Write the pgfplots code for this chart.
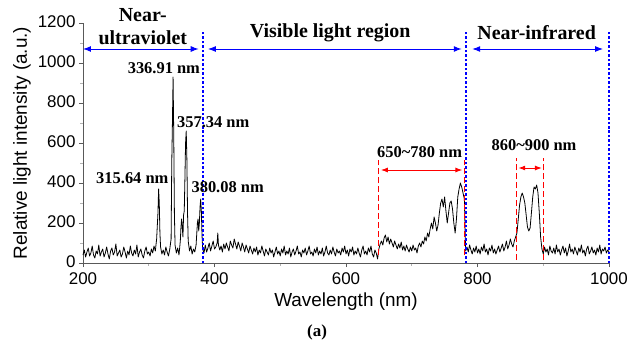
\documentclass[border=0pt]{standalone}
\usepackage{pgfplots}
\pgfplotsset{compat=1.18}
\usetikzlibrary{arrows.meta}
\usepackage{fontspec}
\setmainfont{Liberation Serif}
\newfontfamily\arial{Liberation Sans}
\begin{document}
\begin{tikzpicture}
\path[use as bounding box] (-83bp,-78bp) rectangle (561bp,263bp);
\begin{axis}[
  at={(0,0)}, anchor=south west,
  scale only axis, width=526bp, height=240bp,
  xmin=200, xmax=1000, ymin=0, ymax=1200,
  axis lines*=left,
  axis line style={black!65, line width=0.6pt},
  xtick={200,400,...,1000}, ytick={0,200,...,1200},
  minor x tick num=1, minor y tick num=1,
  tick align=outside,
  major tick length=4bp, minor tick length=2.5bp,
  tick style={black!65, line width=0.6pt},
  minor tick style={black!30},
  /pgf/number format/assume math mode=true,
  /pgf/number format/set thousands separator={},
  tick label style={font=\arial\fontsize{17}{20}\selectfont},
  x tick label style={yshift=-2.5bp},
  y tick label style={yshift=1bp},
  xlabel={Wavelength (nm)},
  ylabel={Relative light intensity (a.u.)},
  label style={font=\arial\fontsize{19}{22}\selectfont},
  x label style={at={(axis description cs:0.5,-0.1625)}, anchor=center},
  y label style={at={(axis description cs:-0.116,0.5)}, anchor=center},
  clip=false,
]
\addplot[black, line width=0.8pt, line join=round] coordinates {
(200,40) (202,65) (204,30) (206,55) (208,75) (210,35) (212,50) (214,85) (216,40) (218,25)
(220,60) (222,45) (224,90) (226,35) (228,55) (230,70) (232,30) (234,50) (236,80) (238,45)
(240,20) (242,60) (244,75) (246,40) (248,55) (250,95) (252,35) (254,50) (256,65) (258,30)
(260,45) (262,80) (264,55) (266,25) (268,60) (270,40) (272,85) (274,50) (276,35) (278,65)
(280,45) (282,90) (284,30) (286,55) (288,70) (290,40) (292,25) (294,60) (296,80) (298,45)
(300,55) (302,35) (304,70) (306,50) (308,85) (310,60) (312,120) (314,250) (315,370) (316,300)
(317,150) (318,80) (320,45) (322,65) (324,40) (326,80) (328,55) (330,35) (332,70) (334,120)
(335,500) (336,700) (337,930) (338,650) (339,250) (340,90) (342,50) (344,75) (346,40) (348,110)
(349,180) (350,220) (351,180) (352,130) (353,240) (354,260) (355,420) (356,600) (357,660) (358,520)
(359,250) (360,110) (362,60) (364,85) (366,45) (368,70) (370,55) (372,90) (374,200) (375,220)
(376,160) (377,200) (378,280) (379,320) (380,260) (381,140) (382,70) (384,50) (386,90) (388,55)
(390,75) (392,100) (394,60) (396,85) (398,110) (400,70) (402,80) (404,100) (405,150) (406,90)
(408,65) (410,85) (412,55) (414,95) (416,70) (418,100) (420,80) (422,60) (424,110) (426,90)
(428,75) (430,120) (432,95) (434,70) (436,105) (438,85) (440,60) (442,100) (444,80) (446,55)
(448,90) (450,70) (452,50) (454,85) (456,65) (458,45) (460,75) (462,55) (464,80) (466,40)
(468,65) (470,50) (472,85) (474,60) (476,35) (478,70) (480,55) (482,40) (484,75) (486,50)
(488,65) (490,30) (492,55) (494,80) (496,45) (498,60) (500,35) (502,70) (504,50) (506,85)
(508,40) (510,60) (512,45) (514,75) (516,30) (518,55) (520,70) (522,40) (524,60) (526,85)
(528,45) (530,55) (532,30) (534,65) (536,50) (538,75) (540,40) (542,60) (544,85) (546,45)
(548,55) (550,35) (552,70) (554,50) (556,80) (558,40) (560,60) (562,45) (564,75) (566,35)
(568,55) (570,85) (572,50) (574,40) (576,65) (578,45) (580,80) (582,55) (584,35) (586,70)
(588,50) (590,60) (592,40) (594,75) (596,55) (598,85) (600,45) (602,65) (604,35) (606,70)
(608,55) (610,80) (612,40) (614,60) (616,45) (618,75) (620,50) (622,30) (624,65) (626,85)
(628,45) (630,60) (632,40) (634,75) (636,55) (638,85) (640,45) (642,30) (644,65) (646,50)
(648,20) (650,70) (652,95) (654,110) (656,90) (658,125) (660,140) (662,105) (664,130) (666,95)
(668,120) (670,100) (672,80) (674,110) (676,90) (678,70) (680,95) (682,75) (684,105) (686,65)
(688,85) (690,60) (692,90) (694,70) (696,55) (698,80) (700,60) (702,90) (704,65) (706,75)
(708,50) (710,85) (712,100) (714,80) (716,110) (718,95) (720,130) (722,110) (724,150) (726,130)
(728,170) (730,200) (732,170) (734,230) (736,200) (738,160) (740,190) (742,250) (744,300) (746,320)
(748,280) (750,330) (752,260) (754,200) (756,250) (758,300) (760,310) (762,270) (764,200) (766,150)
(768,220) (770,330) (772,370) (774,400) (776,380) (778,350) (780,320) (782,60) (784,80) (786,55)
(788,90) (790,65) (792,45) (794,75) (796,55) (798,85) (800,50) (802,70) (804,45) (806,80)
(808,60) (810,95) (812,55) (814,70) (816,40) (818,75) (820,60) (822,90) (824,50) (826,70)
(828,45) (830,65) (832,85) (834,55) (836,75) (838,95) (840,60) (842,80) (844,110) (846,70)
(848,90) (850,120) (852,95) (854,80) (856,110) (858,130) (860,150) (862,220) (864,290) (866,330)
(868,350) (870,330) (872,300) (874,240) (876,180) (878,160) (880,175) (882,250) (884,330) (886,380)
(888,370) (890,390) (892,350) (894,250) (896,130) (898,70) (900,45) (902,80) (904,55) (906,70)
(908,40) (910,85) (912,60) (914,50) (916,75) (918,45) (920,90) (922,55) (924,70) (926,40)
(928,65) (930,85) (932,50) (934,75) (936,35) (938,60) (940,95) (942,55) (944,70) (946,45)
(948,80) (950,60) (952,40) (954,75) (956,55) (958,90) (960,50) (962,65) (964,35) (966,70)
(968,85) (970,45) (972,60) (974,80) (976,50) (978,65) (980,40) (982,75) (984,55) (986,90)
(988,45) (990,70) (992,60) (994,80) (996,50) (998,65) (1000,55)
};
% red dashed markers
\draw[red, line width=1pt, dash pattern=on 6pt off 3pt] (axis cs:650,40) -- (axis cs:650,515);
\draw[red, line width=1pt, dash pattern=on 6pt off 3pt] (axis cs:780,40) -- (axis cs:780,515);
\draw[red, line width=1pt, dash pattern=on 6pt off 3pt] (axis cs:860,15) -- (axis cs:860,525);
\draw[red, line width=1pt, dash pattern=on 6pt off 3pt] (axis cs:900,15) -- (axis cs:900,525);
\draw[red, line width=1pt, {Latex[length=7pt,width=5pt]}-{Latex[length=7pt,width=5pt]}] (axis cs:653,465) -- (axis cs:777,465);
\draw[red, line width=1pt, {Latex[length=7pt,width=5pt]}-{Latex[length=7pt,width=5pt]}] (axis cs:862,475) -- (axis cs:898,475);
% blue dotted boundaries
\draw[blue, line width=1.8pt, dash pattern=on 2.5pt off 2pt] (axis cs:382,0) -- (axis cs:382,1160);
\draw[blue, line width=1.8pt, dash pattern=on 2.5pt off 2pt] (axis cs:782,0) -- (axis cs:782,1160);
\draw[blue, line width=1.8pt, dash pattern=on 2.5pt off 2pt] (axis cs:1000,0) -- (axis cs:1000,1160);
\draw[blue, line width=1pt, {Latex[length=8pt,width=6pt]}-{Latex[length=8pt,width=6pt]}] (axis cs:200,1070) -- (axis cs:376,1070);
\draw[blue, line width=1pt, {Latex[length=8pt,width=6pt]}-{Latex[length=8pt,width=6pt]}] (axis cs:390,1070) -- (axis cs:776,1070);
\draw[blue, line width=1pt, {Latex[length=8pt,width=6pt]}-{Latex[length=8pt,width=6pt]}] (axis cs:792,1070) -- (axis cs:991,1070);
% region labels
\node[font=\bfseries\fontsize{20}{23}\selectfont, align=center, inner sep=0pt] at (axis cs:291,1182) {Near-\\ultraviolet};
\node[font=\bfseries\fontsize{20}{23}\selectfont, inner sep=0pt] at (axis cs:576,1150) {Visible light region};
\node[font=\bfseries\fontsize{20}{23}\selectfont, inner sep=0pt] at (axis cs:890,1150) {Near-infrared};
% peak labels
\node[font=\bfseries\fontsize{16.5}{19}\selectfont, inner sep=0pt] at (axis cs:323,975) {336.91 nm};
\node[font=\bfseries\fontsize{16.5}{19}\selectfont, inner sep=0pt] at (axis cs:398,705) {357.34 nm};
\node[font=\bfseries\fontsize{16.5}{19}\selectfont, inner sep=0pt] at (axis cs:275,425) {315.64 nm};
\node[font=\bfseries\fontsize{16.5}{19}\selectfont, inner sep=0pt] at (axis cs:420,380) {380.08 nm};
\node[font=\bfseries\fontsize{16.5}{19}\selectfont, inner sep=0pt] at (axis cs:712,555) {650\textasciitilde780 nm};
\node[font=\bfseries\fontsize{16.5}{19}\selectfont, inner sep=0pt] at (axis cs:886,590) {860\textasciitilde900 nm};
\node[font=\bfseries\fontsize{17}{20}\selectfont, inner sep=0pt] at (axis cs:556,-345) {(a)};
\end{axis}
\end{tikzpicture}
\end{document}
